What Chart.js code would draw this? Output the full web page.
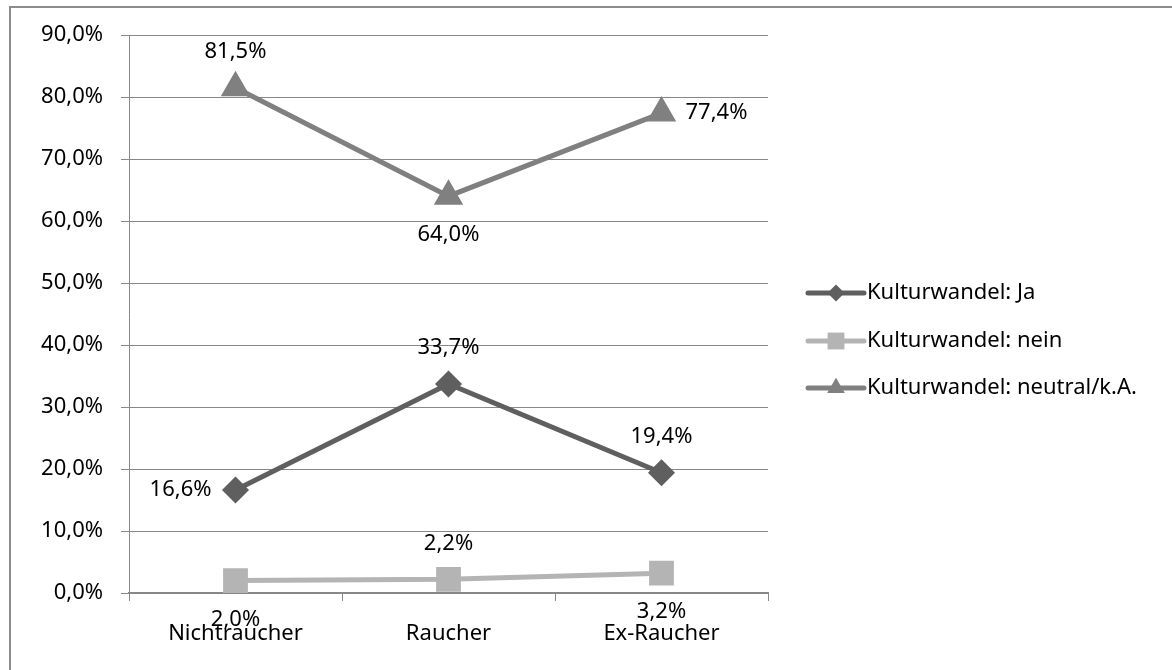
<!DOCTYPE html>
<html>
<head>
<meta charset="utf-8">
<script src="https://cdn.jsdelivr.net/npm/chart.js@4"></script>
<style>
  html, body { margin: 0; padding: 0; background: #fff; }
  #wrap { position: relative; width: 1172px; height: 670px; overflow: hidden; }
  #frame { position: absolute; left: 9px; top: 6px; right: -10px; bottom: -10px; border-left: 2px solid #8c8c8c; border-top: 2px solid #8c8c8c; pointer-events: none; }
</style>
</head>
<body>
<div id="wrap">
  <canvas id="myChart" width="1172" height="670"></canvas>
  <div id="frame"></div>
</div>
<script>
const categories = ['Nichtraucher', 'Raucher', 'Ex-Raucher'];
const seriesNames = ['Kulturwandel: Ja', 'Kulturwandel: nein', 'Kulturwandel: neutral/k.A.'];
const ja = [16.6, 33.7, 19.4];
const nein = [2.0, 2.2, 3.2];
const neutral = [81.5, 64.0, 77.4];
const yTicks = [0, 10, 20, 30, 40, 50, 60, 70, 80, 90];

const FONT = '"Noto Sans", sans-serif';
const SIZE = 22;
const fmt = v => v.toFixed(1).replace('.', ',') + '%';

// where each value label sits relative to its point
const labelPos = [
    ['left', 'above', 'above'],
    ['below', 'above', 'below'],
    ['above', 'below', 'right']
];

const valueLabels = {
    id: 'valueLabels',
    afterDatasetsDraw(chart) {
        const c = chart.ctx;
        c.save();
        c.font = SIZE + 'px ' + FONT;
        c.fillStyle = '#000';
        chart.data.datasets.forEach((ds, i) => {
            chart.getDatasetMeta(i).data.forEach((pt, j) => {
                const p = labelPos[i][j];
                let x = pt.x, y = pt.y;
                c.textAlign = 'center';
                c.textBaseline = 'middle';
                if (p === 'above') y -= 36;
                if (p === 'below') y += 39;
                if (p === 'left') { c.textAlign = 'right'; x -= 24; }
                if (p === 'right') { c.textAlign = 'left'; x += 24; }
                c.fillText(fmt(ds.data[j]), x, y);
            });
        });
        c.restore();
    }
};

const sideLegend = {
    id: 'sideLegend',
    afterDraw(chart) {
        const c = chart.ctx;
        c.save();
        c.font = SIZE + 'px ' + FONT;
        c.textAlign = 'left';
        c.textBaseline = 'middle';
        const ys = [293, 341, 388];
        chart.data.datasets.forEach((ds, i) => {
            const y = ys[i];
            c.strokeStyle = ds.borderColor;
            c.lineWidth = 5;
            c.lineCap = 'round';
            c.beginPath();
            c.moveTo(808, y);
            c.lineTo(864, y);
            c.stroke();
            c.fillStyle = ds.backgroundColor;
            Chart.helpers.drawPoint(c, {pointStyle: ds.pointStyle, radius: ds.pointRadius * 0.85, borderWidth: 0}, 836, y);
            c.fillStyle = '#000';
            c.fillText(ds.label, 867, y);
        });
        c.restore();
    }
};

new Chart(document.getElementById('myChart'), {
    type: 'line',
    data: {
        labels: categories,
        datasets: [{
            label: seriesNames[0],
            data: ja,
            borderColor: '#5f5f5f',
            backgroundColor: '#5f5f5f',
            pointStyle: 'rectRot',
            pointRadius: 10,
            borderWidth: 5,
        }, {
            label: seriesNames[1],
            data: nein,
            borderColor: '#b4b4b4',
            backgroundColor: '#b4b4b4',
            pointStyle: 'rect',
            pointRadius: 14,
            borderWidth: 5,
        }, {
            label: seriesNames[2],
            data: neutral,
            borderColor: '#808080',
            backgroundColor: '#808080',
            pointStyle: 'triangle',
            pointRadius: 12,
            borderWidth: 5,
        }]
    },
    options: {
        responsive: false,
        animation: false,
        layout: { padding: { top: 35, right: 404, left: 0, bottom: 0 } },
        plugins: { legend: { display: false }, tooltip: { enabled: false } },
        elements: { line: { tension: 0 }, point: { borderWidth: 0 } },
        scales: {
            x: {
                offset: true,
                afterFit: a => { a.height = 77; },
                grid: { offset: true, drawOnChartArea: false, tickLength: 8, color: '#888', lineWidth: 1 },
                border: { color: '#888', width: 2 },
                ticks: { color: '#000', font: { family: FONT, size: SIZE }, padding: 20 }
            },
            y: {
                min: 0,
                max: 90,
                afterFit: a => { a.width = 129; },
                afterBuildTicks: a => { a.ticks = yTicks.map(v => ({ value: v })); },
                grid: { color: '#888', lineWidth: 1, tickLength: 8 },
                border: { color: '#888', width: 1 },
                ticks: { color: '#000', font: { family: FONT, size: SIZE }, padding: 18, callback: v => fmt(v) }
            }
        }
    },
    plugins: [valueLabels, sideLegend]
});
</script>
</body>
</html>
